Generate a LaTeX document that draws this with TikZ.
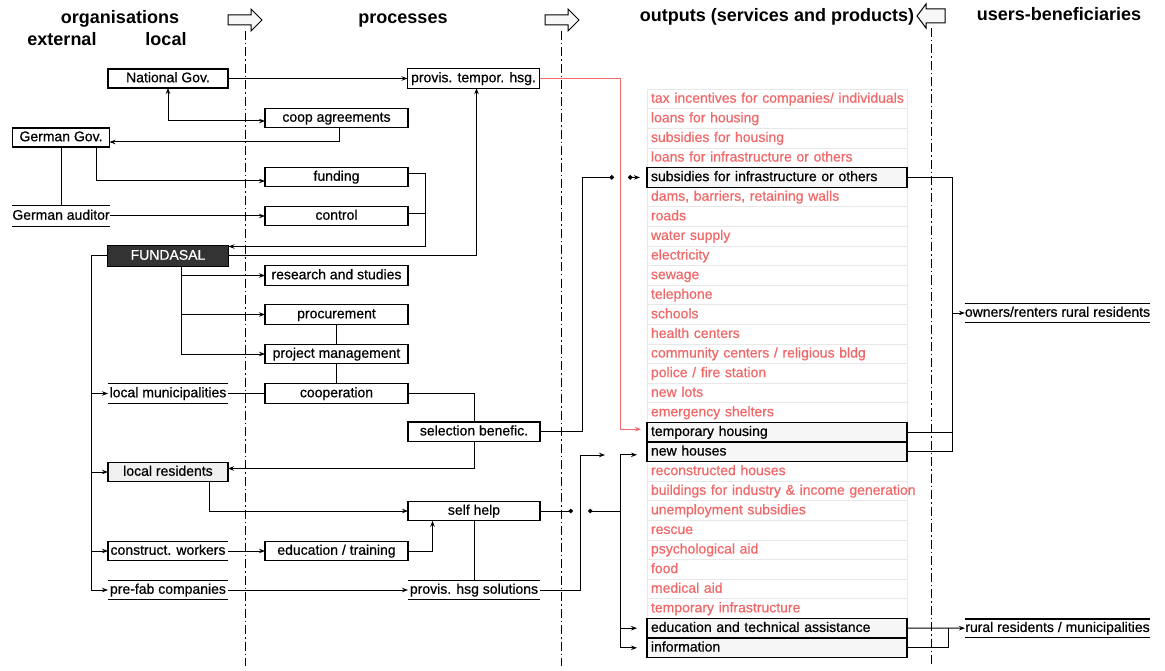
\documentclass[tikz,border=0pt]{standalone}
\usepackage{fontspec}
\setmainfont{Liberation Sans}
\newfontfamily\boxfam{Liberation Sans}[FakeBold=0.6]
\usetikzlibrary{arrows.meta}
\definecolor{outred}{RGB}{240,104,104}
\definecolor{fundgray}{RGB}{51,51,51}
\newcommand\boxfont{\boxfam\fontsize{14}{16}\selectfont}
\newcommand\hdrfont{\fontsize{18}{21}\selectfont\bfseries}
\begin{document}
\begin{tikzpicture}[x=1pt,y=-1pt,line width=1pt,
  every node/.style={font=\boxfont,inner sep=0pt,outer sep=0pt,text height=10pt,text depth=2.5pt},
  hdr/.style={font=\hdrfont,anchor=base},
  orgbox/.style={draw,line width=1.1pt,minimum width=120,minimum height=19},
  procbox/.style={draw,line width=1.1pt,minimum width=143,minimum height=19.5},
  selbox/.style={procbox,minimum width=132},
  store/.style={minimum width=120,minimum height=19.5,append after command={(\tikzlastnode.north west) edge[line width=1.1pt] (\tikzlastnode.north east) (\tikzlastnode.south west) edge[line width=1.1pt] (\tikzlastnode.south east)}},
  outrd/.style={draw=gray!18,line width=0.8pt,text=outred,minimum height=19.6,text width=252,inner xsep=4pt,align=left},
  outbk/.style={outrd,fill=gray!7,text=black},
  flow/.style={-{Stealth[length=6pt,width=4.5pt]}},
  twoway/.style={{Stealth[length=6pt,width=4.5pt]}-{Stealth[length=6pt,width=4.5pt]}},
  dotend/.style={-{Circle[length=4.5pt]}},
  dotflow/.style={{Circle[length=4.5pt]}-{Stealth[length=6pt,width=4.5pt]}},
  redflow/.style={flow,draw=outred,line width=0.8pt},
  laneline/.style={line width=1pt,dash pattern=on 9pt off 3pt on 1.5pt off 3pt},
  blockarr/.style={draw,line width=1pt,fill=gray!6}]
\useasboundingbox (0,0) rectangle (1165,671);
\foreach \lx/\ly in {245/31,561.5/31,931/28}
  \draw[laneline] (\lx,\ly) -- (\lx,666);
\foreach \lx in {228,545}
  \draw[blockarr] (\lx,15) -- ++(23,0) -- ++(0,-6) -- ++(11,11) -- ++(-11,11) -- ++(0,-6) -- ++(-23,0) -- cycle;
\draw[blockarr] (945,9) -- ++(-19,0) -- ++(0,-5) -- ++(-9,12) -- ++(9,12) -- ++(0,-5) -- ++(19,0) -- cycle;
\node[hdr] (horg) at (120,24) {organisations};
\node[hdr] (hext) at (62,46) {external};
\node[hdr] (hloc) at (166,46) {local};
\node[hdr] (hproc) at (403,24) {processes};
\node[hdr] (hout) at (777,22) {outputs (services and products)};
\node[hdr] (huser) at (1059,21) {users-beneficiaries};
\node[orgbox] (natgov) at (168,78.5) {National Gov.};
\node[orgbox,minimum width=97] (gergov) at (61,137.5) {German Gov.};
\node[store,minimum width=98,minimum height=20.5] (audit) at (61,216) {German auditor};
\node[orgbox,fill=fundgray,text=white,minimum width=121,minimum height=21] (fund) at (168,256) {FUNDASAL};
\node[store] (munic) at (168,393.5) {local municipalities};
\node[orgbox,fill=gray!12] (resid) at (168,472) {local residents};
\node[store] (workers) at (168,551) {construct. workers};
\node[store] (prefab) at (168,590) {pre-fab companies};
\draw[line width=1.1pt] (workers.north west) -- (workers.south west);
\node[selbox] (provtemp) at (473.5,78.5) {provis. tempor. hsg.};
\node[procbox] (coop) at (336.5,118) {coop agreements};
\node[procbox] (funding) at (336.5,177) {funding};
\node[procbox] (control) at (336.5,216) {control};
\node[procbox] (research) at (336.5,275.5) {research and studies};
\node[procbox] (procure) at (336.5,314.5) {procurement};
\node[procbox] (projman) at (336.5,354) {project management};
\node[procbox] (cooper) at (336.5,393.5) {cooperation};
\node[selbox] (select) at (474,431.7) {selection benefic.};
\node[selbox] (selfhelp) at (474,511) {self help};
\node[procbox] (edutrain) at (336.5,551) {education / training};
\node[store,minimum width=132] (provsol) at (474,590) {provis. hsg solutions};
\foreach \txt/\k [count=\i] in {{tax incentives for companies/ individuals}/outrd,{loans for housing}/outrd,{subsidies for housing}/outrd,{loans for infrastructure or others}/outrd,{subsidies for infrastructure or others}/outbk,{dams, barriers, retaining walls}/outrd,{roads}/outrd,{water supply}/outrd,{electricity}/outrd,{sewage}/outrd,{telephone}/outrd,{schools}/outrd,{health centers}/outrd,{community centers / religious bldg}/outrd,{police / fire station}/outrd,{new lots}/outrd,{emergency shelters}/outrd,{temporary housing}/outbk,{new houses}/outbk,{reconstructed houses}/outrd,{buildings for industry \& income generation}/outrd,{unemployment subsidies}/outrd,{rescue}/outrd,{psychological aid}/outrd,{food}/outrd,{medical aid}/outrd,{temporary infrastructure}/outrd,{education and technical assistance}/outbk,{information}/outbk}
  \node[\k] (out\i) at (777,{99+19.6*(\i-1)}) {\mbox{\txt}};
\foreach \i in {5,18,19,28,29}
  \draw[line width=1.1pt] (out\i.north west) rectangle (out\i.south east);
\node[store,minimum width=185,minimum height=18.5] (owners) at (1057.5,313) {owners/renters rural residents};
\node[store,minimum width=185,minimum height=18.5] (rural) at (1057.5,628.2) {rural residents / municipalities};
\coordinate (dotA) at (614,177.4);
\coordinate (dotB) at (628,177.4);
\coordinate (dotC) at (573,511);
\coordinate (dotD) at (588,511);
\coordinate (newarr) at (605,455);
\draw[flow] (natgov) -- (provtemp);
\draw[twoway] (natgov.south) |- ([yshift=-3]coop.west);
\draw[flow] ([xshift=2.5]coop.south) |- ([yshift=-4.5]gergov.east);
\draw[flow] ([xshift=35]gergov.south) |- ([yshift=-4]funding.west);
\draw (gergov) -- (audit);
\draw[flow] (audit) -- (control);
\draw[flow] ([yshift=3]funding.east) -- ++(17.5,0) |- ([yshift=9.5]fund.east);
\draw ([yshift=2]control.east) -- ++(17.5,0);
\draw[flow] (fund.east) -| ([xshift=3]provtemp.south);
\foreach \t in {research,procure,projman}
  \draw[flow] ([xshift=13.5]fund.south) |- (\t.west);
\foreach \t in {munic,resid,workers,prefab}
  \draw[flow] (fund.west) -- ++(-16,0) |- (\t.west);
\draw (procure) -- (projman);
\draw (projman) -- (cooper);
\draw (munic) -- (cooper);
\draw (cooper.east) -| (select.north);
\draw[flow] (select.south) |- ([yshift=3.5]resid.east);
\draw[flow] ([xshift=41]resid.south) |- (selfhelp.west);
\draw[flow] (workers) -- (edutrain);
\draw[flow] (edutrain.east) -| ([xshift=-41.5]selfhelp.south);
\draw (selfhelp) -- (provsol);
\draw[flow] (prefab) -- (provsol);
\draw[redflow] (provtemp.east) -- ++(81,0) |- ([xshift=-6,yshift=3]out18.west);
\draw[dotend] (select.east) -- ++(42,0) |- (dotA);
\draw[dotflow] (dotB) -- ([xshift=-7]out5.west);
\draw[dotend] (selfhelp.east) -- (dotC);
\draw[dotflow] (dotD) -- ++(32,0) |- ([xshift=-10,yshift=-3]out19.west);
\foreach \i in {28,29}
  \draw[flow] (dotD) ++(32,0) |- ([xshift=-10]out\i.west);
\draw[flow] (provsol.east) -- ++(40,0) |- (newarr);
\draw (out5.east) -- ++(45,0) |- (out19.east);
\draw (out18.east) -- ++(45,0);
\draw[flow] (out5.east) ++(45,0) |- (owners.west);
\draw[flow] (out28) -- (rural);
\draw (out28.east) ++(41,0) |- (out29.east);
\end{tikzpicture}
\end{document}
